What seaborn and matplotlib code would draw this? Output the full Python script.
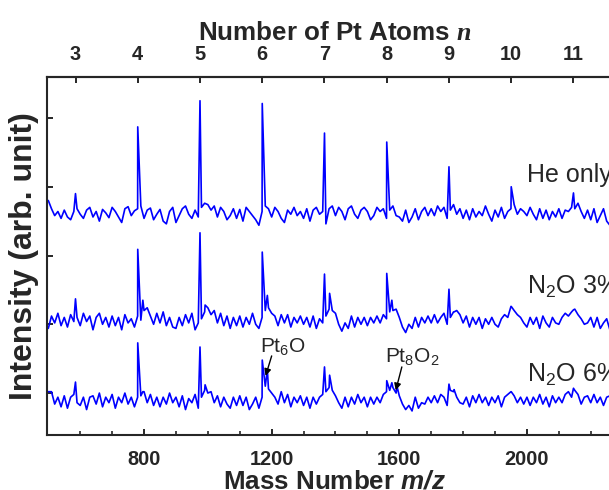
import numpy as np
import pandas as pd
import matplotlib.pyplot as plt
import seaborn as sns

# style
sns.set_style("ticks")
plt.rcParams['font.family'] = ['Liberation Sans', 'DejaVu Sans']
plt.rcParams['mathtext.fontset'] = 'custom'
plt.rcParams['mathtext.rm'] = 'Liberation Sans'
plt.rcParams['mathtext.it'] = 'Liberation Sans:italic'
plt.rcParams['mathtext.bf'] = 'Liberation Sans:bold'
plt.rcParams['mathtext.bfit'] = 'Liberation Sans:italic:bold'
plt.rcParams['mathtext.sf'] = 'Liberation Serif:italic:bold'

PT_MASS = 195.08

# sampled channels (m/z) and baseline readings per trace (arb. units, 100 = one y tick)
mz_grid = np.arange(500, 2301, 10)

he_base = [18, 6, -4, 2, -8, 4, -6, -10, 2, 6,
           -2, -8, 4, 8, -6, 2, -12, 5, 0, -7,
           8, 2, -6, -14, 6, 9, -4, 3, 6, 10,
           -8, 4, 7, -10, -2, 5, -12, -16, 2, 8,
           -14, -4, 6, 10, -2, -8, 4, -6, 8, 14,
           12, 4, 10, -6, 8, 2, -10, -4, 6, -8,
           5, -12, 8, 2, -4, -10, -18, 2, 10, 6,
           -6, 8, 2, -8, -14, 4, -2, 8, -4, 2,
           -8, 6, -12, 4, 8, -2, 2, -16, 6, 10,
           -4, 8, 2, -10, 6, 10, -2, -8, 4, 8,
           2, -10, -4, 8, 2, 6, -8, 4, 10, -4,
           -6, -12, 4, -14, -6, 6, -10, 2, 8, -4,
           6, -4, 10, 2, 8, -8, 4, 12, -2, 6,
           -8, 4, -10, 6, -6, 2, -4, 10, -2, -12,
           4, -6, 8, -8, 2, 6, 12, -2, 6, 2,
           -4, 8, -2, -10, 6, -8, 4, -10, 2, -6,
           6, -8, 4, 2, 8, 6, 14, 2, -8, 4,
           -10, 6, -14, -4, 6, -12, -18, -8, -14, -10,
           -12]

n2o3_base = [-12, 6, -4, 10, -8, 4, -10, 8, -2, 4,
             -8, 10, -2, 6, -14, 4, 10, -6, 4, -10,
             6, -8, 4, -14, 8, -4, 2, -10, 6, 0,
             14, 18, 6, -6, 10, -4, 12, -8, 4, -10,
             -12, 4, -8, 8, -4, 10, -14, -4, 2, 12,
             18, 8, 14, -4, 10, -8, 6, -12, 4, -8,
             6, -10, 4, -6, 10, -6, -12, 4, 14, 18,
             10, 6, -8, 8, -4, 8, -10, 4, -4, 6,
             -6, 4, -10, 6, -12, 2, -4, 6, 16, 14,
             10, -6, -16, -4, -12, 6, -10, 4, -6, 4,
             -8, 4, -4, 6, -4, 8, 2, 12, 14, 16,
             4, -10, -18, -6, -12, 4, -10, 4, -4, 6,
             -4, 8, -4, 4, 10, -6, 4, 12, 14, 8,
             -4, 6, -10, 4, -6, 4, -12, 2, -6, 4,
             -6, -10, 2, 8, 4, 20, 14, 8, 4, -4,
             -10, 4, -6, 4, -12, 6, -4, -10, 4, -4,
             -6, 4, 10, 6, 12, 16, 8, 2, -6, -4,
             4, -10, 4, -12, -4, 2, -14, -8, -4, -12,
             -10]

n2o6_base = [12, 12, -6, 4, -10, 6, -12, 4, 8, -4,
             -8, 4, -14, 4, 6, -6, 10, -10, 4, -4,
             8, -12, 4, -4, 10, -6, 4, -10, 4, 6,
             12, -4, 8, -8, 4, -10, 4, -6, 10, -4,
             4, -10, 6, -14, 2, -4, 8, -12, 4, 14,
             10, 12, -4, 6, -10, 4, -6, -12, 4, -8,
             6, -8, 4, -14, -6, 4, -12, 4, 20, 16,
             10, 4, -6, 12, -4, 8, -10, 4, -4, 6,
             -8, 4, -12, 4, -6, 4, 8, 12, 18, 14,
             6, -4, -12, 4, -10, 4, -6, 8, -4, 4,
             -10, 4, -6, 4, -4, 8, 12, 14, 18, 10,
             6, -6, -14, -8, -16, 4, -12, -4, -6, 4,
             -4, 6, -4, 8, 4, -8, 14, 12, 4, -4,
             -6, 4, -10, 6, -4, 8, -4, 4, -8, 4,
             -4, 6, -10, 4, 8, 12, 6, -4, 4, -6,
             4, -8, 4, -4, 8, -6, 4, -10, 6, -4,
             4, -4, 8, 12, 4, 14, 8, -6, 4, 6,
             -4, 8, -4, 4, -8, 4, 6, -6, 4, -4,
             0]

# Pt_n cluster peaks
cluster_n = [3, 4, 5, 6, 7, 8, 9, 10, 11]
peak_mz = [585.2, 780.3, 975.4, 1170.5, 1365.6, 1560.7, 1755.7, 1950.8, 2145.9]
he_peaks = [28, 125, 163, 159, 116, 103, 67, 38, 29]
n2o3_peaks = [31, 103, 127, 99, 67, 68, 45, 20, 15]
n2o6_peaks = [26, 83, 77, 58, 48, 28, 23, 12, 17]

# oxide satellites Pt_nO / Pt_nO2
n2o3_ox_mz = [796.3, 991.4, 1186.5, 1381.6, 1576.7, 1771.7]
n2o3_ox = [29, 22, 36, 39, 29, 12]
n2o6_ox_mz = [796.3, 991.4, 1186.5, 1381.6, 1576.7, 1592.7, 1771.7]
n2o6_ox = [12, 22, 44, 36, 25, 20, 15]

trace_offsets = {'He only': 262, 'N2O 3%': 106, 'N2O 6%': -10}


def build_trace(base, pk_mz, pk_val, ox_mz, ox_val, name):
    mz = np.concatenate([mz_grid, pk_mz, ox_mz])
    val = np.concatenate([base, pk_val, ox_val]) + trace_offsets[name]
    return pd.DataFrame({'mz': mz, 'intensity': val, 'trace': name})


df = pd.concat([
    build_trace(he_base, peak_mz, he_peaks, [], [], 'He only'),
    build_trace(n2o3_base, peak_mz, n2o3_peaks, n2o3_ox_mz, n2o3_ox, 'N2O 3%'),
    build_trace(n2o6_base, peak_mz, n2o6_peaks, n2o6_ox_mz, n2o6_ox, 'N2O 6%'),
], ignore_index=True)

fig = plt.figure(figsize=(6.09, 4.90), dpi=100)
ax = fig.add_axes([0.0767, 0.1122, 0.9457, 0.7313])

sns.lineplot(data=df, x='mz', y='intensity', units='trace', estimator=None,
             color='#0000ff', linewidth=1.2, sort=True, ax=ax)

ax.set_xlim(495, 2300)
ax.set_ylim(-61, 460)
ax.set_xticks([800, 1200, 1600, 2000])
ax.set_xticks(np.arange(600, 2300, 100), minor=True)
ax.set_yticks([0, 100, 200, 300, 400])
ax.set_yticklabels([])
for s in ax.spines.values():
    s.set_linewidth(1.5)
ax.tick_params(axis='both', which='major', direction='in', length=4, width=1.4,
               labelsize=14.4, pad=11)
ax.tick_params(axis='x', which='minor', direction='in', length=3, width=1.2)
for lbl in ax.get_xticklabels():
    lbl.set_fontweight('bold')

ax.set_xlabel(r'Mass Number $\mathbfit{m/z}$', fontsize=18.7, fontweight='bold', labelpad=0)
ax.set_ylabel('Intensity (arb. unit)', fontsize=23, fontweight='bold')
ax.yaxis.set_label_coords(-0.014, 0.5)

# top axis: number of Pt atoms
top = ax.secondary_xaxis('top', functions=(lambda m: m / PT_MASS, lambda n: n * PT_MASS))
top.set_xticks(cluster_n)
top.tick_params(direction='in', length=4, width=1.4, labelsize=14.4, pad=9)
for lbl in top.get_xticklabels():
    lbl.set_fontweight('bold')
top.spines['top'].set_linewidth(1.5)
top.set_xlabel(r'Number of Pt Atoms $\mathsf{n}$', fontsize=18.7, fontweight='bold', labelpad=4)

# trace labels
ax.text(2000, 307, 'He only', fontsize=18, va='baseline')
ax.text(2000, 145, r'N$_2$O 3%', fontsize=18, va='baseline')
ax.text(2000, 17, r'N$_2$O 6%', fontsize=18, va='baseline')

# oxide annotations
arrow = dict(arrowstyle='-|>', color='black', lw=1.0, mutation_scale=10, shrinkA=0, shrinkB=0)
ax.text(1162, 58, r'Pt$_6$O', fontsize=15, va='baseline')
ax.annotate('', xy=(1181, 25), xytext=(1200, 54), arrowprops=arrow)
ax.text(1554, 44, r'Pt$_8$O$_2$', fontsize=15, va='baseline')
ax.annotate('', xy=(1589, 4), xytext=(1608, 38), arrowprops=arrow)

plt.savefig('out.png', dpi=100)
plt.close()
